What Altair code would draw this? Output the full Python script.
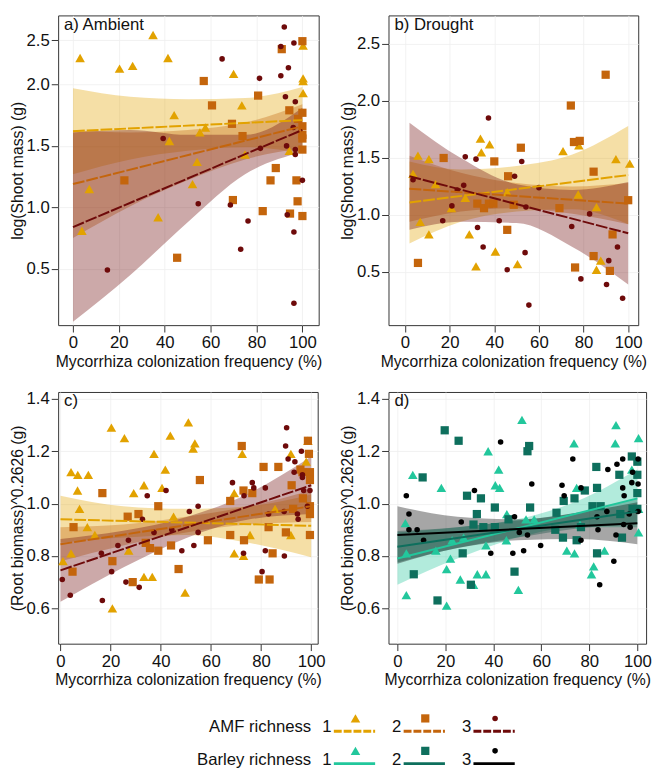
import altair as alt
import pandas as pd

FONT = "Liberation Sans"
X_TITLE = "Mycorrhiza colonization frequency (%)"
X_TICKS = [0, 20, 40, 60, 80, 100]

AMF_COLORS = ["#E2A200", "#C4650C", "#6E0A0A"]
BAR_COLORS = ["#22C79C", "#0E6F5D", "#000000"]
SHAPES = ["triangle-up", "square", "circle"]
SIZES = [95, 70, 32]

# ---------------- panel a) Ambient, shoot mass ----------------
A1_X = [3.1, 3.9, 7.1, 20.3, 26.0, 34.9, 37.1, 41.4, 42.0, 44.1, 52.1, 54.1, 55.3, 57.7, 70.0, 73.6, 75.0, 94.3, 100.3, 100.3, 100.3, 100.3]
A1_Y = [2.30, 0.81, 1.15, 2.18, 2.21, 2.56, 0.92, 2.30, 1.54, 1.75, 1.19, 1.37, 1.61, 1.65, 2.12, 1.83, 1.43, 1.46, 2.44, 2.07, 2.04, 1.93]
A2_X = [22.4, 45.4, 57.0, 60.6, 69.3, 69.7, 73.9, 80.7, 82.7, 86.1, 88.4, 91.0, 94.3, 94.6, 97.4, 97.9, 98.1, 100, 100, 100, 100, 100, 100, 100]
A2_Y = [1.22, 0.59, 2.04, 1.83, 1.68, 1.06, 1.58, 1.91, 0.97, 1.22, 1.32, 2.40, 1.79, 0.95, 1.22, 1.05, 1.72, 2.49, 1.77, 1.66, 1.59, 1.56, 1.47, 0.93]
A3_X = [15.0, 39.3, 54.6, 65.0, 68.6, 73.1, 76.3, 81.3, 81.7, 90.6, 90.6, 92.1, 92.6, 93.1, 93.4, 93.9, 96.3, 96.3, 96.3, 96.9, 96.9, 96.9, 100, 96.0]
A3_Y = [0.49, 1.56, 1.03, 2.29, 1.02, 0.66, 0.89, 2.07, 1.48, 2.43, 2.10, 2.65, 1.90, 1.50, 0.94, 2.19, 2.47, 0.80, 0.22, 1.86, 1.43, 1.47, 1.22, 1.65]
A_BAND_X = [0, 25, 50, 75, 100]
A1_LO = [1.27, 1.39, 1.46, 1.49, 1.44]
A1_HI = [1.97, 1.90, 1.88, 1.89, 1.98]
A2_LO = [0.75, 1.01, 1.22, 1.39, 1.48]
A2_HI = [1.63, 1.61, 1.63, 1.69, 1.84]
A3_LO = [0.07, 0.45, 0.88, 1.27, 1.45]
A3_HI = [1.61, 1.63, 1.59, 1.59, 1.81]
A_LINE_X = [0, 100]
A1_LINE = [1.62, 1.71]
A2_LINE = [1.19, 1.66]
A3_LINE = [0.84, 1.63]

# ---------------- panel b) Drought, shoot mass ----------------
B1_X = [3.6, 5.8, 6.8, 10.7, 10.7, 13.7, 20.8, 27.0, 28.8, 31.8, 33.8, 34.2, 37.9, 40.5, 45.8, 50.4, 70.8, 77.9, 77.6, 85.8, 85.8, 87.7, 94.5, 100.7]
B1_Y = [1.36, 1.52, 0.94, 1.49, 0.83, 1.27, 1.06, 1.15, 0.83, 0.55, 1.67, 1.55, 1.62, 0.68, 1.20, 0.57, 1.56, 1.61, 1.18, 1.07, 0.52, 0.60, 1.49, 1.45]
B2_X = [5.8, 17.3, 32.4, 35.4, 37.6, 39.6, 40.0, 45.8, 46.2, 48.7, 51.9, 69.2, 74.3, 75.7, 78.3, 76.2, 84.5, 84.5, 89.9, 91.8, 93.0, 100.0]
B2_Y = [0.58, 1.50, 1.10, 1.06, 1.10, 1.10, 1.47, 0.87, 1.34, 1.09, 1.59, 1.06, 1.96, 1.64, 1.65, 0.54, 1.38, 0.64, 2.23, 0.51, 0.83, 1.13]
B3_X = [3.6, 16.9, 21.0, 23.4, 26.3, 27.0, 31.8, 32.5, 35.0, 37.4, 42.2, 45.8, 49.1, 52.3, 53.8, 54.2, 55.5, 60.0, 74.7, 78.8, 82.7, 90.3, 91.3, 95.2, 97.5]
B3_Y = [1.31, 0.95, 1.08, 1.22, 1.26, 1.51, 1.49, 0.89, 0.72, 1.85, 0.95, 0.52, 1.34, 1.47, 0.67, 1.07, 0.21, 1.24, 0.90, 0.44, 1.01, 0.39, 0.60, 0.72, 0.27]
B_BAND_X = [2, 25, 50, 75, 100]
B1_LO = [0.75, 0.94, 1.03, 1.05, 0.92]
B1_HI = [1.47, 1.40, 1.43, 1.53, 1.78]
B2_LO = [0.94, 1.03, 1.06, 1.01, 0.92]
B2_HI = [1.52, 1.37, 1.28, 1.25, 1.28]
B3_LO = [0.87, 0.94, 0.93, 0.72, 0.39]
B3_HI = [1.81, 1.50, 1.27, 1.22, 1.29]
B_LINE_X = [2, 100]
B1_LINE = [1.11, 1.35]
B2_LINE = [1.23, 1.10]
B3_LINE = [1.34, 0.84]

# ---------------- panel c) root biomass by AMF richness ----------------
C1_X = [1.0, 4.2, 4.2, 6.8, 6.9, 7.6, 10.7, 11.1, 13.7, 20.3, 20.7, 25.5, 27.2, 29.2, 33.3, 33.3, 36.6, 37.3, 40.5, 41.8, 43.8, 45.1, 49.7, 51.0, 52.9, 53.6, 69.3, 69.3, 72.5, 73.0, 75.6, 85.6, 91.9, 91.9, 98.7, 98.0]
C1_Y = [0.78, 0.81, 1.12, 1.05, 1.11, 0.98, 0.91, 1.11, 0.88, 1.29, 0.60, 1.25, 0.82, 1.04, 1.07, 0.72, 0.72, 1.19, 1.06, 1.13, 1.26, 0.95, 0.66, 1.31, 1.21, 1.23, 0.81, 1.04, 1.19, 0.80, 0.88, 0.98, 0.88, 1.19, 1.24, 1.16]
C2_X = [4.8, 5.2, 16.7, 20.7, 26.8, 28.8, 31.1, 34.0, 35.7, 39.0, 39.0, 44.1, 47.1, 55.6, 58.8, 67.7, 67.7, 72.3, 73.0, 73.2, 76.5, 79.1, 81.0, 83.0, 83.4, 84.6, 86.9, 89.9, 92.2, 92.8, 95.7, 96.5, 96.7, 98.7, 99.1, 99.5, 99.5, 99.5, 99.5, 99.5]
C2_Y = [0.74, 0.91, 1.04, 0.78, 0.95, 0.70, 0.96, 0.85, 0.83, 0.99, 0.82, 0.84, 0.75, 1.09, 0.86, 1.01, 0.88, 1.22, 1.05, 0.86, 1.04, 0.71, 1.14, 0.91, 0.71, 0.81, 1.14, 0.89, 1.07, 0.98, 1.13, 1.12, 1.02, 1.24, 1.19, 1.12, 1.09, 0.99, 0.96, 0.88]
C3_X = [0.7, 3.9, 16.3, 16.7, 20.4, 22.9, 26.1, 27.1, 31.4, 32.7, 34.6, 37.3, 42.1, 44.4, 48.4, 51.4, 53.2, 54.9, 54.9, 68.6, 73.2, 73.0, 76.5, 77.1, 80.4, 81.7, 81.7, 83.0, 89.2, 89.3, 89.8, 90.2, 90.8, 93.5, 93.2, 94.5, 94.8, 96.1, 96.5, 96.5, 97.0, 98.5, 99.5]
C3_Y = [0.71, 0.65, 0.81, 0.63, 0.74, 0.84, 0.70, 0.86, 0.68, 0.94, 1.03, 0.89, 1.05, 0.90, 0.82, 0.97, 0.84, 0.99, 0.89, 1.08, 1.03, 0.81, 1.08, 1.06, 0.74, 1.06, 0.82, 0.96, 0.97, 0.80, 1.22, 1.29, 1.17, 1.16, 1.12, 0.96, 0.94, 1.20, 1.11, 1.10, 1.05, 0.99, 1.05]
C_BAND_X = [0, 25, 50, 75, 100]
C1_LO = [0.85, 0.87, 0.88, 0.85, 0.795]
C1_HI = [1.03, 0.99, 0.98, 0.99, 1.035]
C2_LO = [0.78, 0.84, 0.89, 0.92, 0.93]
C2_HI = [0.91, 0.92, 0.95, 0.99, 1.05]
C3_LO = [0.625, 0.756, 0.868, 0.939, 0.96]
C3_HI = [0.865, 0.896, 0.948, 1.039, 1.18]
C_LINE_X = [0, 100]
C1_LINE = [0.94, 0.915]
C2_LINE = [0.845, 0.99]
C3_LINE = [0.745, 1.07]

# ---------------- panel d) root biomass by barley richness ----------------
D1_X = [3.3, 3.7, 3.7, 6.4, 16.0, 18.3, 20.5, 20.5, 22.1, 22.8, 26.2, 27.6, 31.7, 33.3, 36.9, 36.9, 37.8, 40.8, 42.2, 42.6, 45.4, 45.6, 50.4, 51.9, 53.6, 57.0, 70.6, 73.6, 73.8, 74.7, 76.1, 81.8, 80.9, 86.3, 91.1, 90.8, 97.7, 100.5, 100.5, 100.5]
D1_Y = [0.925, 0.81, 0.65, 1.11, 0.82, 1.06, 0.61, 0.75, 0.79, 0.86, 0.71, 0.87, 0.69, 0.73, 0.73, 0.84, 1.20, 1.07, 1.13, 1.06, 0.86, 0.96, 0.67, 1.32, 0.94, 0.94, 0.82, 1.23, 0.81, 1.06, 0.92, 0.76, 0.73, 0.82, 1.30, 1.23, 1.13, 1.25, 0.89, 0.98]
D2_X = [6.8, 10.5, 16.7, 19.7, 25.5, 27.2, 29.0, 30.6, 33.1, 31.7, 34.8, 35.8, 40.6, 40.6, 46.3, 48.8, 54.2, 54.9, 55.3, 66.3, 65.8, 69.3, 69.0, 73.8, 74.7, 76.5, 78.1, 81.3, 82.9, 83.2, 83.2, 84.7, 92.5, 92.9, 93.6, 97.7, 100.0, 100.0, 100.0, 100.0, 98.0]
D2_Y = [0.73, 1.10, 0.63, 1.28, 1.24, 0.81, 1.03, 0.69, 0.96, 0.92, 1.02, 0.91, 0.985, 0.91, 0.94, 0.74, 1.20, 1.22, 0.985, 0.965, 0.90, 1.01, 0.87, 1.02, 0.86, 0.91, 1.05, 0.99, 1.14, 1.06, 0.81, 0.99, 1.11, 0.96, 0.87, 1.18, 1.16, 1.11, 1.04, 0.98, 0.98]
D3_X = [3.7, 4.8, 4.8, 8.2, 10.9, 26.6, 32.1, 38.9, 43.0, 48.1, 48.8, 50.8, 52.6, 54.2, 56.0, 59.7, 68.6, 69.5, 73.1, 76.5, 76.5, 84.3, 83.2, 83.6, 87.3, 87.7, 91.1, 91.5, 90.2, 93.9, 93.9, 94.5, 94.3, 96.6, 97.0, 97.7, 98.0, 100.3, 100.3, 100.3]
D3_Y = [1.03, 0.96, 0.90, 0.90, 0.86, 0.93, 1.05, 0.81, 1.235, 0.81, 0.95, 0.89, 0.82, 0.88, 1.075, 0.84, 1.07, 1.03, 1.17, 1.06, 0.86, 0.69, 0.95, 0.90, 0.97, 1.13, 0.88, 1.15, 0.78, 1.17, 1.06, 1.03, 0.92, 0.96, 0.91, 1.08, 1.12, 1.17, 1.075, 0.97]
D_BAND_X = [0, 25, 50, 75, 100]
D1_LO = [0.69, 0.79, 0.87, 0.91, 0.91]
D1_HI = [0.89, 0.91, 0.94, 1.01, 1.13]
D2_LO = [0.775, 0.83, 0.87, 0.905, 0.92]
D2_HI = [0.895, 0.91, 0.935, 0.965, 1.02]
D3_LO = [0.77, 0.83, 0.86, 0.865, 0.845]
D3_HI = [0.99, 0.95, 0.94, 0.965, 1.005]
D_LINE_X = [0, 100]
D1_LINE = [0.79, 1.02]
D2_LINE = [0.835, 0.97]
D3_LINE = [0.88, 0.925]

# legend
LEG_ROWS = ["AMF richness", "Barley richness"]
LEG_LEVELS = [1, 2, 3]


def panel(groups, colors, dashed, xdom, yscale, yticks, ytitle, label, w, h):
    xs = alt.Scale(domain=xdom, nice=False, zero=False)
    xaxis = alt.Axis(values=X_TICKS, title=X_TITLE, grid=True, domain=False,
                     tickSize=7, labelPadding=3, titlePadding=3)
    yaxis = alt.Axis(values=yticks, format=".1f", title=ytitle, grid=True,
                     domain=False, tickSize=7, labelPadding=2, titlePadding=1)
    layers = []
    for i, g in enumerate(groups):
        df = pd.DataFrame({"x": g["bx"], "lo": g["lo"], "hi": g["hi"]})
        layers.append(alt.Chart(df).mark_area(color=colors[i], opacity=0.35,
                                              interpolate="monotone").encode(
            x=alt.X("x:Q", scale=xs, axis=xaxis),
            y=alt.Y("lo:Q", scale=yscale, axis=yaxis),
            y2="hi:Q"))
    for i, g in enumerate(groups):
        df = pd.DataFrame({"x": g["px"], "y": g["py"]})
        layers.append(alt.Chart(df).mark_point(shape=SHAPES[i], size=SIZES[i],
                                               filled=True, opacity=1,
                                               color=colors[i]).encode(
            x=alt.X("x:Q", scale=xs, axis=xaxis),
            y=alt.Y("y:Q", scale=yscale, axis=yaxis)))
    for i, g in enumerate(groups):
        df = pd.DataFrame({"x": g["lx"], "y": g["ly"]})
        kw = dict(color=colors[i], strokeWidth=2)
        if dashed:
            kw["strokeDash"] = [12, 2]
        layers.append(alt.Chart(df).mark_line(**kw).encode(
            x=alt.X("x:Q", scale=xs, axis=xaxis),
            y=alt.Y("y:Q", scale=yscale, axis=yaxis)))
    lab = pd.DataFrame({"t": [label]})
    layers.append(alt.Chart(lab).mark_text(align="left", baseline="middle",
                                           fontSize=17, font=FONT,
                                           color="#111").encode(
        x=alt.value(6), y=alt.value(10 if h > 300 else 9), text="t:N"))
    return alt.layer(*layers).properties(width=w, height=h)


def grp(px, py, bx, lo, hi, lx, ly):
    return dict(px=px, py=py, bx=bx, lo=lo, hi=hi, lx=lx, ly=ly)


A = [grp(A1_X, A1_Y, A_BAND_X, A1_LO, A1_HI, A_LINE_X, A1_LINE),
     grp(A2_X, A2_Y, A_BAND_X, A2_LO, A2_HI, A_LINE_X, A2_LINE),
     grp(A3_X, A3_Y, A_BAND_X, A3_LO, A3_HI, A_LINE_X, A3_LINE)]
B = [grp(B1_X, B1_Y, B_BAND_X, B1_LO, B1_HI, B_LINE_X, B1_LINE),
     grp(B2_X, B2_Y, B_BAND_X, B2_LO, B2_HI, B_LINE_X, B2_LINE),
     grp(B3_X, B3_Y, B_BAND_X, B3_LO, B3_HI, B_LINE_X, B3_LINE)]
C = [grp(C1_X, C1_Y, C_BAND_X, C1_LO, C1_HI, C_LINE_X, C1_LINE),
     grp(C2_X, C2_Y, C_BAND_X, C2_LO, C2_HI, C_LINE_X, C2_LINE),
     grp(C3_X, C3_Y, C_BAND_X, C3_LO, C3_HI, C_LINE_X, C3_LINE)]
D = [grp(D1_X, D1_Y, D_BAND_X, D1_LO, D1_HI, D_LINE_X, D1_LINE),
     grp(D2_X, D2_Y, D_BAND_X, D2_LO, D2_HI, D_LINE_X, D2_LINE),
     grp(D3_X, D3_Y, D_BAND_X, D3_LO, D3_HI, D_LINE_X, D3_LINE)]

SHOOT_TICKS = [0.5, 1.0, 1.5, 2.0, 2.5]
ROOT_TICKS = [0.6, 0.8, 1.0, 1.2, 1.4]

H1 = 315
H2 = 256
# panel a has a compressed top segment in the original; use a piecewise scale
ya = alt.Scale(domain=[0.042, 0.5, 1.0, 1.5, 2.0, 2.5, 2.781],
               range=[H1, 257.7, 195.3, 132.7, 70.3, 25.3, 0], nice=False, zero=False)
yb = alt.Scale(domain=[0.0345, 2.75], nice=False, zero=False)
yr = alt.Scale(domain=[0.4648, 1.4263], nice=False, zero=False)

pa = panel(A, AMF_COLORS, True, [-6.47, 107.1], ya, SHOOT_TICKS, "log(Shoot mass) (g)", "a) Ambient", 265, H1)
pb = panel(B, AMF_COLORS, True, [-7.4, 104.5], yb, SHOOT_TICKS, "log(Shoot mass) (g)", "b) Drought", 254, H1)
pc = panel(C, AMF_COLORS, True, [-0.94, 102.6], yr, ROOT_TICKS, "(Root biomass)^0.2626 (g)", "c)", 264, H2)
pd_ = panel(D, BAR_COLORS, False, [-3.73, 103.65], yr, ROOT_TICKS, "(Root biomass)^0.2626 (g)", "d)", 262, H2)

# ---------------- legend ----------------
LEG_W = 560
LX0 = 1 - 302.4 / 71
LX1 = LX0 + LEG_W / 71
lx = alt.Scale(domain=[LX0, LX1], nice=False, zero=False)
ly = alt.Scale(type="point", domain=LEG_ROWS, range=[33, 66], padding=0)
keys = [f"{r}{l}" for r in LEG_ROWS for l in LEG_LEVELS]
leg_df = pd.DataFrame({
    "row": [r for r in LEG_ROWS for _ in LEG_LEVELS],
    "level": [l for _ in LEG_ROWS for l in LEG_LEVELS],
})
leg_df["key"] = leg_df["row"] + leg_df["level"].astype(str)
leg_df["lab"] = leg_df["level"].astype(str)
kcolor = alt.Color("key:N", scale=alt.Scale(domain=keys, range=AMF_COLORS + BAR_COLORS), legend=None)
X = alt.X("level:Q", scale=lx, axis=None)
Y = alt.Y("row:N", scale=ly, axis=None)

leg_layers = []
rows_df = pd.DataFrame({"row": LEG_ROWS, "level": [1, 1]})
leg_layers.append(alt.Chart(rows_df).mark_text(align="right", baseline="middle", dx=-45,
                                               fontSize=17, font=FONT, color="#111").encode(
    x=X, y=Y, text="row:N"))
leg_layers.append(alt.Chart(leg_df).mark_text(align="center", baseline="middle", dx=-29,
                                              fontSize=17, font=FONT, color="#111").encode(
    x=X, y=Y, text="lab:N"))
leg_layers.append(alt.Chart(leg_df[leg_df.row == LEG_ROWS[0]]).mark_rule(
    strokeWidth=3, strokeDash=[8, 2], xOffset=-22, x2Offset=20, yOffset=4).encode(
    x=X, x2="level:Q", y=Y, color=kcolor))
leg_layers.append(alt.Chart(leg_df[leg_df.row == LEG_ROWS[1]]).mark_rule(
    strokeWidth=3, xOffset=-22, x2Offset=20, yOffset=4).encode(
    x=X, x2="level:Q", y=Y, color=kcolor))
for i, lvl in enumerate(LEG_LEVELS):
    leg_layers.append(alt.Chart(leg_df[leg_df.level == lvl]).mark_point(
        shape=SHAPES[i], size=SIZES[i], filled=True, opacity=1, yOffset=-9).encode(
        x=X, y=Y, color=kcolor))
legend = alt.layer(*leg_layers).properties(width=LEG_W, height=73,
                                           view=alt.ViewBackground(stroke="transparent"))

row1 = alt.hconcat(pa, pb, spacing=16)
row2 = alt.hconcat(pc, pd_, spacing=12)
chart = alt.vconcat(alt.vconcat(row1, row2, spacing=19), legend, spacing=5).properties(
    padding=0
).configure_axis(
    labelFont=FONT, titleFont=FONT, labelFontSize=17, titleFontSize=16,
    labelColor="#111", titleColor="#111", tickColor="#333", titleFontWeight="normal",
    gridColor="#EFEFEF", gridWidth=0.8
).configure_view(stroke="#333", strokeWidth=1)

chart.save("out.html", embed_options={"renderer": "svg", "actions": False})
